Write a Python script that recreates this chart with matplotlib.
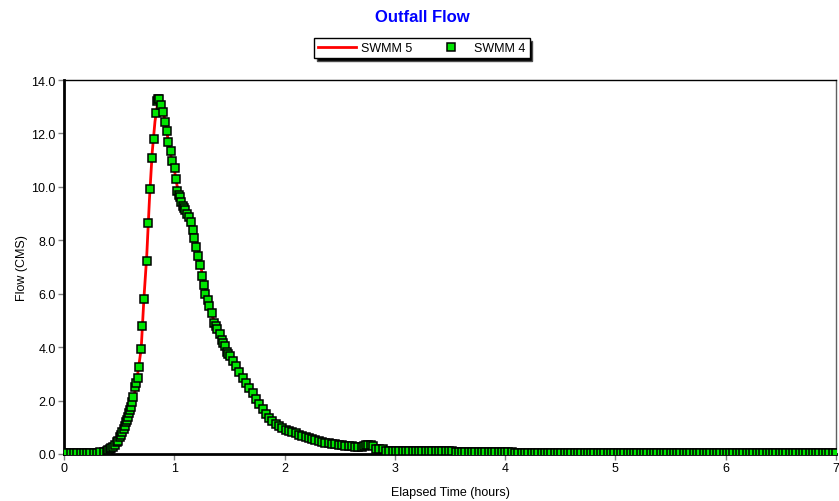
import matplotlib
matplotlib.use("Agg")
import matplotlib.pyplot as plt
import numpy as np

plt.rcParams["font.family"] = ["Liberation Sans", "DejaVu Sans"]

# SWMM 5 (line)
t5 = [0.00, 0.30, 0.35, 0.40, 0.45, 0.50, 0.55, 0.60, 0.65, 0.70, 0.725, 0.75,
      0.775, 0.80, 0.825, 0.85, 0.87, 0.90, 0.925, 0.95, 0.975, 1.00, 1.025,
      1.05, 1.075, 1.10, 1.125, 1.15, 1.175, 1.20, 1.225, 1.25, 1.30, 1.35,
      1.40, 1.45, 1.50, 1.60, 1.70, 1.80, 1.90, 2.00, 2.20, 2.40, 2.60, 2.80,
      3.00, 3.50, 4.00, 5.00, 6.00, 7.00]
q5 = [0.00, 0.02, 0.06, 0.15, 0.28, 0.55, 1.02, 1.62, 2.45, 3.95, 5.85, 7.40,
      9.55, 11.30, 12.45, 13.15, 13.30, 12.85, 12.25, 11.60, 11.05, 10.65,
      10.05, 9.70, 9.45, 9.25, 9.05, 8.80, 8.45, 8.00, 7.45, 6.80, 5.85, 5.10,
      4.58, 4.12, 3.72, 2.98, 2.35, 1.72, 1.22, 0.95, 0.62, 0.41, 0.29, 0.21,
      0.15, 0.09, 0.06, 0.04, 0.03, 0.02]

# SWMM 4 (markers)
early_start, early_step = 0.0, 0.03
early_q = [0.05, 0.05, 0.05, 0.05, 0.05, 0.05, 0.05, 0.05, 0.05, 0.05, 0.05, 0.06, 0.08]

peak_t = [0.387, 0.40, 0.415, 0.43, 0.447, 0.46, 0.478, 0.49, 0.508, 0.52, 0.529,
          0.54, 0.553, 0.565, 0.574, 0.583, 0.592, 0.60, 0.608, 0.62, 0.629,
          0.644, 0.656, 0.668, 0.680, 0.701, 0.710, 0.722, 0.750, 0.759, 0.780,
          0.795, 0.816, 0.831, 0.846, 0.855, 0.864, 0.877, 0.900, 0.913, 0.937,
          0.946, 0.967, 0.979, 1.004, 1.016, 1.027, 1.040, 1.052, 1.064, 1.076,
          1.088, 1.100, 1.118, 1.136, 1.154, 1.167, 1.179, 1.197, 1.215, 1.233,
          1.248, 1.269, 1.281, 1.306, 1.318, 1.339, 1.360, 1.375, 1.390, 1.414,
          1.430, 1.445, 1.460, 1.475, 1.490, 1.505]
peak_q = [0.12, 0.16, 0.20, 0.22, 0.27, 0.33, 0.44, 0.50, 0.62, 0.72, 0.81,
          0.93, 1.06, 1.18, 1.28, 1.40, 1.52, 1.65, 1.77, 1.95, 2.12,
          2.50, 2.65, 2.83, 3.27, 3.93, 4.80, 5.80, 7.24, 8.64, 9.91,
          11.08, 11.79, 12.75, 13.23, 13.30, 13.29, 13.08, 12.82, 12.43, 12.08,
          11.69, 11.36, 10.98, 10.70, 10.30, 9.83, 9.70, 9.63, 9.45, 9.30,
          9.22, 9.14, 8.99, 8.86, 8.67, 8.39, 8.09, 7.76, 7.42, 7.08,
          6.65, 6.33, 6.00, 5.77, 5.53, 5.28, 4.90, 4.80, 4.68, 4.49,
          4.27, 4.15, 4.05, 3.83, 3.75, 3.68]

recess_start, recess_step = 1.53, 0.03
recess_q = [3.50, 3.28, 3.06, 2.86, 2.66, 2.47, 2.27, 2.07, 1.86, 1.67,
            1.51, 1.36, 1.23, 1.12, 1.03, 0.96, 0.91, 0.86, 0.82, 0.77,
            0.72, 0.67, 0.63, 0.59, 0.55, 0.52, 0.49, 0.46, 0.43, 0.40,
            0.38, 0.36, 0.34, 0.32, 0.31, 0.30, 0.29, 0.28, 0.27, 0.26]

bump_t = [2.72, 2.74, 2.76, 2.78, 2.80, 2.83, 2.86, 2.89]
bump_q = [0.31, 0.35, 0.33, 0.35, 0.29, 0.20, 0.18, 0.17]

tail_start, tail_step = 2.92, 0.03
tail_q = [0.13, 0.13, 0.13, 0.13, 0.13, 0.13, 0.13, 0.13, 0.13,
          0.10, 0.10, 0.10, 0.10, 0.10, 0.10, 0.10, 0.10, 0.10, 0.10, 0.10, 0.10,
          0.07, 0.07, 0.07, 0.07, 0.07, 0.07, 0.07, 0.07, 0.07, 0.07, 0.07, 0.07,
          0.07, 0.07, 0.07, 0.07, 0.07, 0.07,
          0.05, 0.05, 0.05, 0.05, 0.05, 0.05, 0.05, 0.05, 0.05, 0.05,
          0.05, 0.05, 0.05, 0.05, 0.05, 0.05, 0.05, 0.05, 0.05, 0.05,
          0.05, 0.05, 0.05, 0.05, 0.05, 0.05, 0.05, 0.05, 0.05, 0.05,
          0.05, 0.05, 0.05, 0.05, 0.05, 0.05, 0.05, 0.05, 0.05, 0.05,
          0.05, 0.05, 0.05, 0.05, 0.05, 0.05, 0.05, 0.05, 0.05, 0.05,
          0.05, 0.05, 0.05, 0.05, 0.05, 0.05, 0.05, 0.05,
          0.03, 0.03, 0.03, 0.03, 0.03, 0.03, 0.03, 0.03, 0.03, 0.03,
          0.03, 0.03, 0.03, 0.03, 0.03, 0.03, 0.03, 0.03, 0.03, 0.03,
          0.03, 0.03, 0.03, 0.03, 0.03, 0.03, 0.03, 0.03, 0.03, 0.03,
          0.03, 0.03, 0.03, 0.03, 0.03, 0.03, 0.03, 0.03, 0.03, 0.03]

t4 = np.concatenate([
    early_start + early_step * np.arange(len(early_q)),
    peak_t,
    recess_start + recess_step * np.arange(len(recess_q)),
    bump_t,
    tail_start + tail_step * np.arange(len(tail_q)),
])
q4 = np.concatenate([early_q, peak_q, recess_q, bump_q, tail_q])

fig = plt.figure(figsize=(8.39, 5.02), dpi=100)
ax = fig.add_axes([64 / 839, 47 / 502, 772 / 839, 374 / 502])

ax.plot(t5, q5, color="#ff0000", linewidth=2, label="SWMM 5", zorder=2)
ax.plot(t4, q4, linestyle="none", marker="s", markersize=5.5,
        markerfacecolor="#00e600", markeredgecolor="black", markeredgewidth=1.1,
        label="SWMM 4", zorder=3)

ax.set_xlim(0, 7)
ax.set_ylim(0, 14)
ax.set_xticks(range(0, 8))
ax.set_yticks(np.arange(0, 15, 2))
ax.yaxis.set_major_formatter(matplotlib.ticker.FormatStrFormatter("%.1f"))
ax.tick_params(direction="out", length=4, width=1, color="#808080",
               labelsize=9, pad=2)

ax.spines["left"].set_linewidth(2)
ax.spines["bottom"].set_linewidth(2)
ax.spines["top"].set_linewidth(1)
ax.spines["right"].set_linewidth(1)
ax.spines["right"].set_color("#606060")

ax.set_xlabel("Elapsed Time (hours)", fontsize=9)
ax.set_ylabel("Flow (CMS)", fontsize=9)
ax.xaxis.set_label_coords(0.5, -0.085)
ax.yaxis.set_label_coords(-0.046, 0.5)

fig.text(422 / 839, 1 - 18 / 502, "Outfall Flow", ha="center", va="center",
         fontsize=12, fontweight="bold", color="#0000ff")

legend = fig.legend(loc="center", bbox_to_anchor=(422 / 839, 1 - 49 / 502),
                    ncol=2, fancybox=False, edgecolor="black", framealpha=1,
                    shadow={"facecolor": "black", "alpha": 1},
                    fontsize=9, handlelength=3.0, columnspacing=1.6,
                    borderpad=0.3, handletextpad=0.4, borderaxespad=0)
legend.get_frame().set_linewidth(1)

fig.savefig("out.png", dpi=100)
